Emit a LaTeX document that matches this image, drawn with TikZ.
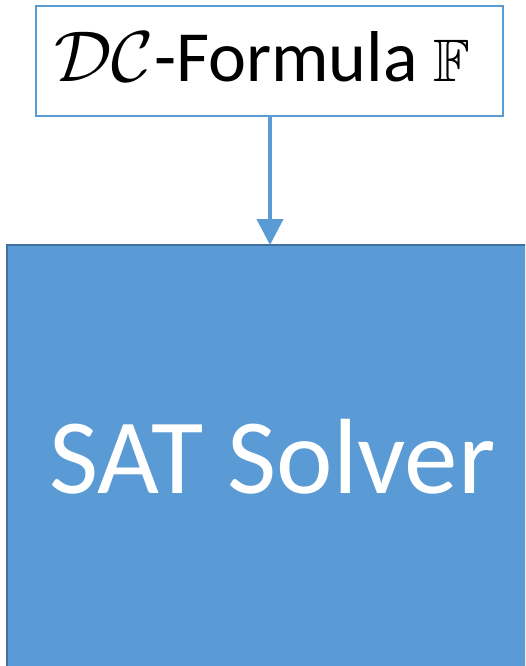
\RequirePackage{fix-cm}
\documentclass[tikz,border=0pt]{standalone}
\usepackage{amssymb}
\usepackage{fontspec}
\setmainfont{Carlito}
\usetikzlibrary{arrows.meta}
\definecolor{blu}{HTML}{5B9BD5}
\definecolor{bludark}{HTML}{41719C}
\tikzset{
  inbox/.style={draw=blu, line width=1.5pt, fill=white},
  solverbox/.style={draw=bludark, fill=blu, line width=1.5pt},
  flow/.style={draw=blu, line width=4pt, -{Triangle[width=26pt,length=26pt]}},
}
\begin{document}
\begin{tikzpicture}[x=1pt,y=1pt]
\useasboundingbox (0,0) rectangle (525,-666);
\begin{scope}
\clip (0,0) rectangle (525,-666);
\node[inbox, minimum width=467pt, minimum height=110pt, inner sep=0pt] (in) at (269.5,-61) {};
\node[anchor=base, inner sep=0pt] (intext) at (262.5,-82) {\fontsize{72}{72}\selectfont$\mathcal{DC}$-Formula {\fontsize{60}{60}\selectfont$\mathbb{F}$}};
\draw[solverbox] (7,-245) rectangle (535,-680);
\coordinate (solvtop) at (270,-245);
\node[anchor=base, inner sep=0pt, text=white] (solv) at (272.5,-493) {\fontsize{107}{107}\selectfont SAT Solver};
\draw[flow] (in.south -| solvtop) -- (solvtop);
\end{scope}
\end{tikzpicture}
\end{document}
